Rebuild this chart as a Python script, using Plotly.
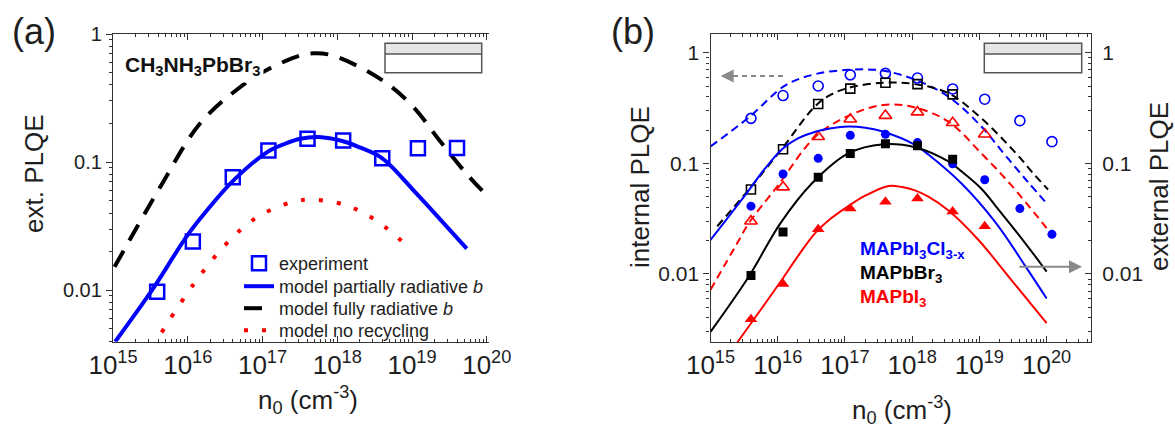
import plotly.graph_objects as go

# ---------------- Panel (a): CH3NH3PbBr3 ----------------
exp_n = [3.9e15, 1.17e16, 4.0e16, 1.2e17, 4.0e17, 1.2e18, 4.0e18, 1.2e19, 4.0e19]
exp_plqe = [0.0097, 0.024, 0.076, 0.123, 0.152, 0.147, 0.107, 0.128, 0.129]

partial_n = [1.07e15, 2.67e15, 3.9e15, 1.0e16, 2.0e16, 4.0e16, 1.17e17, 2.0e17, 3.2e17,
             5.6e17, 1.17e18, 2.0e18, 4.0e18, 1.15e19, 2.5e19, 5.4e19]
partial_plqe = [0.00395, 0.0083, 0.0115, 0.027, 0.045, 0.071, 0.12, 0.139, 0.152,
                0.157, 0.146, 0.13, 0.107, 0.0566, 0.0346, 0.0211]

fully_n = [1.05e15, 4.27e15, 1.45e16, 5.0e16, 1.26e17, 3.16e17, 4.8e17, 8.9e17,
           4.07e18, 1.05e19, 2.34e19, 5.37e19, 1.1e20]
fully_plqe = [0.0152, 0.0637, 0.199, 0.384, 0.54, 0.677, 0.706, 0.677,
              0.433, 0.268, 0.147, 0.081, 0.0518]

norec_n = [4.47e15, 1.17e16, 3.3e16, 8.3e16, 2.45e17, 4.57e17, 1.32e18, 3.55e18, 8.9e18]
norec_plqe = [0.00467, 0.0109, 0.0231, 0.0368, 0.0487, 0.0508, 0.0459, 0.034, 0.0217]

# ---------------- Panel (b): three perovskites ----------------
pts_n = [4e15, 1.2e16, 4e16, 1.2e17, 4e17, 1.2e18, 4e18, 1.2e19, 4e19, 1.2e20]
cl_int = [0.255, 0.41, 0.50, 0.63, 0.65, 0.59, 0.47, 0.38, 0.243, 0.157]
cl_ext = [0.041, 0.080, 0.111, 0.179, 0.183, 0.154, 0.099, 0.071, 0.039, 0.0228]
br_int = [0.058, 0.134, 0.344, 0.473, 0.535, 0.52, 0.42]
br_ext = [0.0097, 0.024, 0.075, 0.123, 0.150, 0.144, 0.109]
i_int = [0.030, 0.061, 0.174, 0.25, 0.27, 0.29, 0.233, 0.183]
i_ext = [0.0039, 0.0081, 0.0253, 0.039, 0.045, 0.048, 0.0366, 0.027]

cl_int_mn = [1e15, 3.72e15, 1.32e16, 3.63e16, 1.12e17, 3.55e17, 1.1e18, 3.47e18,
             1.07e19, 2.4e19, 5.25e19, 1.05e20]
cl_int_mv = [0.142, 0.26, 0.51, 0.64, 0.70, 0.69, 0.57, 0.40, 0.215, 0.119, 0.068, 0.042]

br_int_mn = [1.26e15, 3.72e15, 1.17e16, 3.63e16, 6.3e16, 1.12e17, 3.72e17, 1.1e18, 3.47e18,
             1.07e19, 3.55e19, 6.6e19, 1.05e20]
br_int_mv = [0.027, 0.058, 0.137, 0.33, 0.42, 0.48, 0.536, 0.52, 0.43, 0.255, 0.122, 0.0786, 0.058]

i_int_mn = [1e15, 2.5e15, 3.72e15, 9.8e15, 3.63e16, 1.12e17, 3.72e17, 1.1e18, 3.47e18,
            1.07e19, 2.95e19, 1e20]
i_int_mv = [0.0072, 0.019, 0.0288, 0.0616, 0.174, 0.268, 0.337, 0.32, 0.238, 0.123, 0.0638, 0.026]

cl_ext_mn = [1e15, 3.55e15, 6.3e15, 1.17e16, 2e16, 3.63e16, 6.3e16, 1.12e17, 2e17, 3.55e17,
             1.1e18, 1.74e18, 5.37e18, 1.7e19, 5.25e19, 1e20]
cl_ext_mv = [0.0203, 0.055, 0.088, 0.135, 0.168, 0.193, 0.208, 0.215, 0.21, 0.195,
             0.147, 0.12, 0.066, 0.0297, 0.0109, 0.0060]

br_ext_mn = [1e15, 3.72e15, 1.1e16, 3.24e16, 1.12e17, 3.72e17, 1.1e18, 3.47e18,
             5.37e18, 1.07e19, 1.7e19, 5.25e19, 1e20]
br_ext_mv = [0.0030, 0.0095, 0.0288, 0.066, 0.123, 0.149, 0.14, 0.104,
             0.085, 0.059, 0.042, 0.0177, 0.0105]

i_ext_mn = [2.5e15, 1.1e16, 2e16, 3.63e16, 6.3e16, 1.12e17, 2e17, 4.47e17, 7.1e17, 1.1e18,
            1.74e18, 3.47e18, 9.55e18, 2.95e19, 1e20]
i_ext_mv = [0.0024, 0.0085, 0.0145, 0.0235, 0.032, 0.041, 0.051, 0.0625, 0.061, 0.057,
            0.050, 0.0375, 0.0205, 0.0089, 0.0036]

# ---------------- ticks ----------------
decades = [1e15, 1e16, 1e17, 1e18, 1e19, 1e20]
decade_txt = ["10<sup>15</sup>", "10<sup>16</sup>", "10<sup>17</sup>",
              "10<sup>18</sup>", "10<sup>19</sup>", "10<sup>20</sup>"]
ytick_vals = [0.01, 0.1, 1]
ytick_txt = ["0.01", "0.1", "1"]

W, H = 1175, 430
BLUE, RED, BLACK, GRAY = "#0000ff", "#ff0000", "#000000", "#8a8a8a"
AXC = "#333333"
TXT = "#1e1e1e"
FONT = "Liberation Sans, Arial, sans-serif"


def px(x):
    return x / W


def py(y):
    return 1 - y / H


def minors(k0, k1):
    return [m * 10.0 ** k for k in range(k0, k1) for m in range(2, 10)]


fig = go.Figure()

# ---- panel (a) traces (each legend entry in its own legend box, stacked like the original)
fig.add_trace(go.Scatter(x=fully_n, y=fully_plqe, mode="lines", name="model fully radiative <i>b</i>",
                         line=dict(color=BLACK, width=4, dash="18px,12px", shape="spline"),
                         xaxis="x", yaxis="y", legend="legend3"))
fig.add_trace(go.Scatter(x=norec_n, y=norec_plqe, mode="lines", name="model no recycling",
                         line=dict(color=RED, width=4, dash="4px,14px", shape="spline"),
                         xaxis="x", yaxis="y", legend="legend4"))
fig.add_trace(go.Scatter(x=partial_n, y=partial_plqe, mode="lines", name="model partially radiative <i>b</i>",
                         line=dict(color=BLUE, width=4, shape="spline"),
                         xaxis="x", yaxis="y", legend="legend2"))
fig.add_trace(go.Scatter(x=exp_n, y=exp_plqe, mode="markers", name="experiment",
                         marker=dict(symbol="square-open", size=14, color=BLUE, line=dict(width=2.5, color=BLUE)),
                         xaxis="x", yaxis="y", legend="legend"))

# ---- panel (b) traces: internal (dashed/open) on left axis, external (solid/filled) on right axis
dash_b = "8px,5px"
for mn, mv, col in [(cl_int_mn, cl_int_mv, BLUE), (br_int_mn, br_int_mv, BLACK), (i_int_mn, i_int_mv, RED)]:
    fig.add_trace(go.Scatter(x=mn, y=mv, mode="lines", showlegend=False,
                             line=dict(color=col, width=2, dash=dash_b, shape="spline"),
                             xaxis="x2", yaxis="y2"))
for mn, mv, col in [(cl_ext_mn, cl_ext_mv, BLUE), (br_ext_mn, br_ext_mv, BLACK), (i_ext_mn, i_ext_mv, RED)]:
    fig.add_trace(go.Scatter(x=mn, y=mv, mode="lines", showlegend=False,
                             line=dict(color=col, width=2, shape="spline"),
                             xaxis="x2", yaxis="y4"))

fig.add_trace(go.Scatter(x=pts_n[:len(cl_int)], y=cl_int, mode="markers", showlegend=False,
                         marker=dict(symbol="circle-open", size=10, color=BLUE, line=dict(width=1.6, color=BLUE)),
                         xaxis="x2", yaxis="y2"))
fig.add_trace(go.Scatter(x=pts_n[:len(br_int)], y=br_int, mode="markers", showlegend=False,
                         marker=dict(symbol="square-open", size=9, color=BLACK, line=dict(width=1.6, color=BLACK)),
                         xaxis="x2", yaxis="y2"))
fig.add_trace(go.Scatter(x=pts_n[:len(i_int)], y=i_int, mode="markers", showlegend=False,
                         marker=dict(symbol="triangle-up-open", size=11, color=RED, line=dict(width=1.6, color=RED)),
                         xaxis="x2", yaxis="y2"))
fig.add_trace(go.Scatter(x=pts_n[:len(cl_ext)], y=cl_ext, mode="markers", showlegend=False,
                         marker=dict(symbol="circle", size=9, color=BLUE),
                         xaxis="x2", yaxis="y4"))
fig.add_trace(go.Scatter(x=pts_n[:len(br_ext)], y=br_ext, mode="markers", showlegend=False,
                         marker=dict(symbol="square", size=9, color=BLACK),
                         xaxis="x2", yaxis="y4"))
fig.add_trace(go.Scatter(x=pts_n[:len(i_ext)], y=i_ext, mode="markers", showlegend=False,
                         marker=dict(symbol="triangle-up", size=11, color=RED),
                         xaxis="x2", yaxis="y4"))

# ---- axes
common = dict(type="log", showgrid=False, zeroline=False, showline=True, linecolor=AXC, linewidth=1.3,
              tickcolor=AXC, tickwidth=1.2, automargin=False, tickmode="array")
xcommon = dict(common, tickvals=decades, ticktext=decade_txt, ticks="inside", ticklen=6, mirror="ticks",
               tickfont=dict(size=26, family=FONT, color=TXT))
fig.update_layout(
    xaxis=dict(xcommon, domain=[px(113), px(489)], range=[15, 20.03], anchor="y",
               minor=dict(tickvals=minors(15, 20), ticks="inside", ticklen=3, tickcolor=AXC)),
    yaxis=dict(common, domain=[py(341.7), py(34)], range=[-2.403, 0], anchor="x",
               tickvals=ytick_vals, ticktext=ytick_txt, ticks="outside", ticklen=6,
               tickfont=dict(size=20, family=FONT, color=TXT),
               minor=dict(tickvals=minors(-3, 0), ticks="outside", ticklen=3, tickcolor=AXC)),
    yaxis3=dict(common, overlaying="y", side="right", anchor="x", range=[-2.403, 0],
                tickvals=ytick_vals, ticktext=ytick_txt, ticks="inside", ticklen=6, showticklabels=False,
                minor=dict(tickvals=minors(-3, 0), ticks="inside", ticklen=3, tickcolor=AXC)),
    xaxis2=dict(xcommon, domain=[px(710.5), px(1091)], range=[15, 20.66], anchor="y2",
                minor=dict(tickvals=minors(15, 21), ticks="inside", ticklen=3, tickcolor=AXC)),
    yaxis2=dict(common, domain=[py(342), py(34)], range=[-2.615, 0.169], anchor="x2",
                tickvals=ytick_vals, ticktext=ytick_txt, ticks="outside", ticklen=6,
                tickfont=dict(size=21, family=FONT, color=TXT),
                minor=dict(tickvals=minors(-3, 1), ticks="outside", ticklen=3, tickcolor=AXC)),
    yaxis4=dict(common, overlaying="y2", side="right", anchor="x2", range=[-2.615, 0.169],
                tickvals=ytick_vals, ticktext=ytick_txt, ticks="inside", ticklen=6, ticklabelstandoff=6,
                tickfont=dict(size=21, family=FONT, color=TXT),
                minor=dict(tickvals=minors(-3, 1), ticks="inside", ticklen=3, tickcolor=AXC)),
)

# ---- text annotations
ann = []


def text(x, y, s, size, color=TXT, angle=0, xanchor="center", bold=False, family=FONT, **kw):
    ann.append(dict(x=px(x), y=py(y), xref="paper", yref="paper", text=("<b>%s</b>" % s) if bold else s,
                    showarrow=False, textangle=angle, xanchor=xanchor, yanchor="middle",
                    font=dict(size=size, color=color, family=family), **kw))


text(33.5, 31.5, "(a)", 36)
text(633, 31.5, "(b)", 36)
text(34, 174, "ext. PLQE", 26, angle=-90)
text(640, 187, "internal PLQE", 26, angle=-90)
text(1159, 187, "external PLQE", 26, angle=-90)
text(307.5, 400, "n<sub>0</sub> (cm<sup>-3</sup>)", 26)
text(902, 410, "n<sub>0</sub> (cm<sup>-3</sup>)", 26)
text(121, 66, "CH<sub>3</sub>NH<sub>3</sub>PbBr<sub>3</sub>", 21, color="#111111", xanchor="left", bold=True,
     bgcolor="white", borderpad=3)
text(858, 250, "MAPbI<sub>3</sub>Cl<sub>3-x</sub>", 19, color=BLUE, xanchor="left", bold=True)
text(858, 274, "MAPbBr<sub>3</sub>", 19, color=BLACK, xanchor="left", bold=True)
text(858, 298, "MAPbI<sub>3</sub>", 19, color=RED, xanchor="left", bold=True)

# arrows in panel (b)
ann.append(dict(x=px(720.7), y=py(76), xref="paper", yref="paper", ax=16, ay=0, text="",
                showarrow=True, arrowhead=2, arrowsize=1.3, arrowwidth=2, arrowcolor=GRAY))
ann.append(dict(x=px(1082), y=py(266.7), xref="paper", yref="paper", ax=-64, ay=0, text="",
                showarrow=True, arrowhead=2, arrowsize=1.3, arrowwidth=2, arrowcolor=GRAY))

shapes = [
    dict(type="line", xref="paper", yref="paper", x0=px(733), x1=px(787), y0=py(76), y1=py(76),
         line=dict(color=GRAY, width=2, dash="5px,4px")),
]
for x0, x1 in [(385, 481.7), (984.3, 1081.7)]:
    shapes.append(dict(type="rect", xref="paper", yref="paper", x0=px(x0), x1=px(x1), y0=py(54), y1=py(43.3),
                       fillcolor="#e6e6e6", line=dict(width=0)))
    shapes.append(dict(type="rect", xref="paper", yref="paper", x0=px(x0), x1=px(x1), y0=py(72.7), y1=py(43.3),
                       fillcolor="rgba(0,0,0,0)", line=dict(color="#555555", width=1.5)))
    shapes.append(dict(type="line", xref="paper", yref="paper", x0=px(x0), x1=px(x1), y0=py(54), y1=py(54),
                       line=dict(color="#555555", width=1.5)))

# legend boxes: text starts ~40 px right of the box edge, row centre ~18 px below its top
leg_rows = [263, 286, 308, 330]
leg_font = dict(size=18, family=FONT, color=TXT)
legends = {}
for key, yc in zip(["legend", "legend2", "legend3", "legend4"], leg_rows):
    legends[key] = dict(x=px(239), y=py(yc - 18), xanchor="left", yanchor="top", bgcolor="rgba(0,0,0,0)",
                        borderwidth=0, font=leg_font, itemwidth=30)

fig.update_layout(
    template="none",
    width=W, height=H,
    margin=dict(l=0, r=0, t=0, b=0),
    paper_bgcolor="white", plot_bgcolor="rgba(0,0,0,0)",
    font=dict(family=FONT, color=TXT),
    showlegend=True,
    annotations=ann,
    shapes=shapes,
    **legends,
)

fig.write_html("out.html", config={"displayModeBar": False},
               post_script="document.body.style.margin='0';document.body.style.overflow='hidden';")
